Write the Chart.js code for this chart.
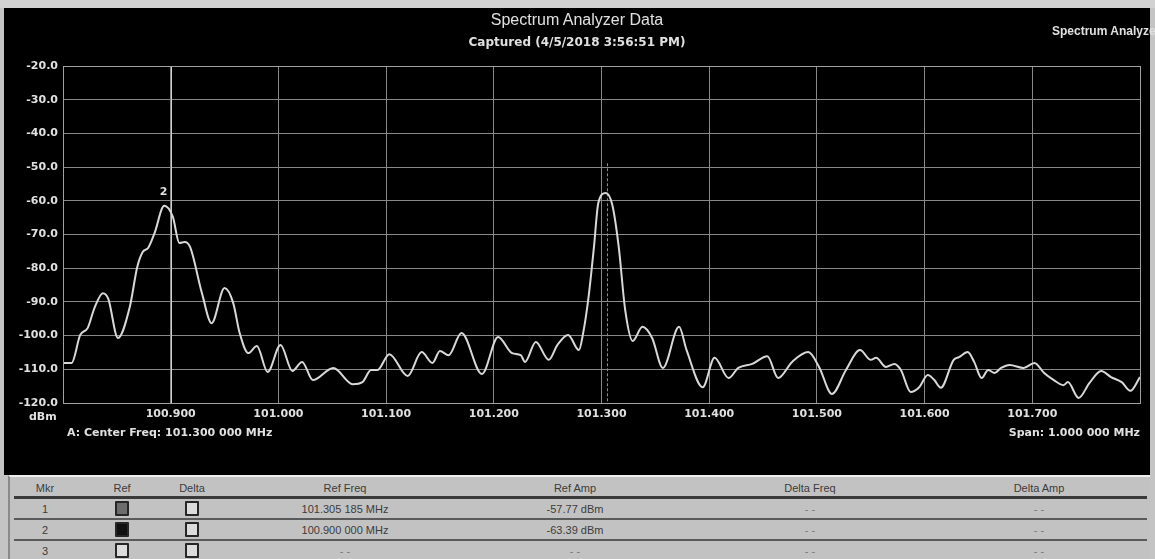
<!DOCTYPE html>
<html>
<head>
<meta charset="utf-8">
<title>Spectrum Analyzer Data</title>
<script src="https://cdn.jsdelivr.net/npm/chart.js@4.4.1/dist/chart.umd.min.js"></script>
<style>
  body { margin:0; width:1155px; height:559px; overflow:hidden; background:#c4c4c4; position:relative;
         font-family:"Liberation Sans", Arial, sans-serif; }
  #top { position:absolute; left:0; top:0; width:1155px; height:8px; background:#d2d2d2; }
  #screen { position:absolute; left:4px; top:8px; width:1146px; height:467px; background:#000; }
  #chartBox { position:absolute; left:0; top:0; width:1146px; height:467px; }
  .lbl { position:absolute; color:#e0e0e0; white-space:nowrap; }
  .dv { font-family:"DejaVu Sans", sans-serif; font-weight:bold; font-size:11px; }
  #title { left:0; width:1146px; top:3px; text-align:center; font-size:16px; }
  #sub { left:0; width:1146px; top:27px; text-align:center; font-size:12px; }
  #corner { left:1048px; top:16px; font-size:12px; font-weight:bold; }
  #unit { left:25px; top:402px; }
  #center { left:63px; top:418px; }
  #span { right:10px; top:418px; }
  #panel { position:absolute; left:8px; top:475px; width:1140px; height:90px; background:#c2c2c2;
           border-top:2px solid #efefef; border-left:2px solid #8a8a8a; }
  table { position:absolute; left:4px; top:2px; width:1133px; border-collapse:collapse; table-layout:fixed;
          font-size:11px; color:#3c3c3c; }
  td, th { text-align:center; padding:0; font-weight:normal; }
  th { height:17px; border-bottom:3px solid #3a3a3a; }
  td { height:19px; border-bottom:2px solid #5a5a5a; }
  .box { display:inline-block; width:10px; height:11px; border:2px solid #262626; background:#dcdcdc;
         vertical-align:middle; border-radius:1px; }
  .box.half { background:#6c6c6c; }
  .box.full { background:#111; }
  .dash { color:#7a7a7a; }
</style>
</head>
<body>
<div id="top"></div>
<div id="screen">
  <div id="chartBox"><canvas id="spec"></canvas></div>
  <div class="lbl" id="title">Spectrum Analyzer Data</div>
  <div class="lbl dv" id="sub">Captured (4/5/2018 3:56:51 PM)</div>
  <div class="lbl" id="corner">Spectrum Analyzer</div>
  <div class="lbl dv" id="unit">dBm</div>
  <div class="lbl dv" id="center">A: Center Freq: 101.300 000 MHz</div>
  <div class="lbl dv" id="span">Span: 1.000 000 MHz</div>
</div>
<div id="panel">
  <table>
    <colgroup>
      <col style="width:62px"><col style="width:92px"><col style="width:48px"><col style="width:258px">
      <col style="width:202px"><col style="width:268px"><col style="width:190px"><col style="width:13px">
    </colgroup>
    <tr><th>Mkr</th><th>Ref</th><th>Delta</th><th>Ref Freq</th><th>Ref Amp</th><th>Delta Freq</th><th>Delta Amp</th><th></th></tr>
    <tr><td>1</td><td><span class="box half"></span></td><td><span class="box"></span></td><td>101.305 185 MHz</td><td>-57.77 dBm</td><td class="dash">- -</td><td class="dash">- -</td><td></td></tr>
    <tr><td>2</td><td><span class="box full"></span></td><td><span class="box"></span></td><td>100.900 000 MHz</td><td>-63.39 dBm</td><td class="dash">- -</td><td class="dash">- -</td><td></td></tr>
    <tr><td>3</td><td><span class="box"></span></td><td><span class="box"></span></td><td class="dash">- -</td><td class="dash">- -</td><td class="dash">- -</td><td class="dash">- -</td><td></td></tr>
  </table>
</div>
<script>
// trace: frequency (MHz) and amplitude (dBm)
const freqMHz = [
  100.800, 100.808, 100.816, 100.823, 100.829, 100.837, 100.842, 100.851, 100.862, 100.869,
  100.874, 100.879, 100.885, 100.894, 100.902, 100.908, 100.913, 100.918, 100.929, 100.938,
  100.950, 100.958, 100.964, 100.972, 100.980, 100.990, 101.002, 101.013, 101.022, 101.032,
  101.051, 101.069, 101.078, 101.086, 101.092, 101.103, 101.120, 101.133, 101.143, 101.150,
  101.158, 101.170, 101.189, 101.204, 101.217, 101.225, 101.229, 101.239, 101.251, 101.259,
  101.269, 101.279, 101.283, 101.288, 101.293, 101.297, 101.304, 101.310, 101.316, 101.322,
  101.329, 101.338, 101.347, 101.357, 101.372, 101.379, 101.394, 101.405, 101.418, 101.427,
  101.440, 101.454, 101.464, 101.477, 101.492, 101.502, 101.514, 101.527, 101.540, 101.550,
  101.555, 101.564, 101.572, 101.578, 101.587, 101.595, 101.603, 101.609, 101.615, 101.627,
  101.632, 101.640, 101.646, 101.653, 101.659, 101.665, 101.671, 101.679, 101.692, 101.702,
  101.711, 101.720, 101.729, 101.733, 101.743, 101.753, 101.764, 101.773, 101.783, 101.791,
  101.800
];
const ampDbm = [
  -108.1, -108.1, -99.8, -97.7, -92.0, -87.4, -89.0, -100.7, -91.5, -79.6,
  -75.2, -74.0, -69.6, -61.5, -64.8, -72.5, -72.2, -73.7, -87.4, -96.3,
  -85.9, -90.3, -99.2, -105.2, -103.1, -110.8, -102.8, -110.5, -107.8, -113.2,
  -109.6, -114.4, -113.8, -110.2, -110.2, -105.5, -112.0, -104.9, -108.1, -104.6,
  -105.8, -99.2, -111.4, -100.4, -105.2, -105.8, -107.8, -101.9, -107.2, -102.8,
  -99.8, -104.3, -99.2, -88.5, -73.7, -60.7, -57.7, -61.2, -73.7, -92.4,
  -101.6, -97.4, -100.7, -109.6, -97.4, -104.3, -115.3, -106.6, -112.6, -109.6,
  -108.4, -106.1, -112.6, -107.8, -104.9, -109.3, -117.3, -110.2, -104.3, -107.2,
  -106.6, -109.3, -108.4, -110.2, -116.7, -115.3, -111.7, -113.2, -115.5, -107.2,
  -106.4, -104.9, -107.8, -112.6, -110.2, -111.1, -109.6, -108.7, -109.6, -108.1,
  -111.1, -113.2, -114.7, -113.8, -118.5, -114.1, -110.5, -112.3, -113.8, -116.4,
  -112.3
];

// markers (from the marker table)
const markerNames = ['1', '2'];
const markerFreq = [101.305185, 100.900000];
const markerAmp = [-57.77, -63.39];

// axis ticks
const xTickValues = [100.8, 100.9, 101.0, 101.1, 101.2, 101.3, 101.4, 101.5, 101.6, 101.7, 101.8];
const yTickValues = [-120, -110, -100, -90, -80, -70, -60, -50, -40, -30, -20];

const points = freqMHz.map((f, i) => ({ x: f, y: ampDbm[i] }));

const markerPlugin = {
  id: 'markers',
  beforeDatasetsDraw(chart) {
    const { ctx, chartArea, scales: { x, y } } = chart;
    ctx.save();
    markerNames.forEach((name, i) => {
      const px = Math.round(x.getPixelForValue(markerFreq[i])) + 0.5;
      ctx.beginPath();
      if (name === '1') {
        ctx.setLineDash([3, 2]);
        ctx.strokeStyle = '#8c8c8c';
        ctx.moveTo(px, y.getPixelForValue(markerAmp[i]) - 30);
      } else {
        ctx.setLineDash([]);
        ctx.strokeStyle = '#d0d0d0';
        ctx.moveTo(px, chartArea.top);
      }
      ctx.lineWidth = 1;
      ctx.lineTo(px, chartArea.bottom);
      ctx.stroke();
      if (name === '2') {
        ctx.fillStyle = '#e0e0e0';
        ctx.font = 'bold 11px "DejaVu Sans", sans-serif';
        ctx.textAlign = 'center';
        ctx.textBaseline = 'middle';
        ctx.fillText(name, px - 8, y.getPixelForValue(markerAmp[i]) - 20);
      }
    });
    ctx.restore();
  }
};

const tickFont = { family: '"DejaVu Sans", sans-serif', size: 11, weight: 'bold' };
const gridColor = '#888888';

new Chart(document.getElementById('spec'), {
  type: 'line',
  data: {
    datasets: [{
      label: 'Trace A',
      data: points,
      borderColor: '#d8d8d8',
      borderWidth: 2,
      pointRadius: 0,
      cubicInterpolationMode: 'monotone',
      fill: false
    }]
  },
  options: {
    responsive: true,
    maintainAspectRatio: false,
    animation: false,
    layout: { padding: { left: 4, top: 58, right: 10, bottom: 52 } },
    plugins: { legend: { display: false }, tooltip: { enabled: false } },
    scales: {
      x: {
        type: 'linear',
        min: 100.8,
        max: 101.8,
        afterBuildTicks: (s) => { s.ticks = xTickValues.map(v => ({ value: v })); },
        afterFit: (s) => { s.height = 20; },
        grid: { color: gridColor, lineWidth: 1, drawTicks: false },
        border: { color: '#a0a0a0', width: 1 },
        ticks: {
          color: '#e0e0e0', font: tickFont, padding: 5, maxRotation: 0, autoSkip: false,
          callback: (v) => (Math.abs(v - 100.8) < 1e-6 || Math.abs(v - 101.8) < 1e-6) ? '' : Number(v).toFixed(3)
        }
      },
      y: {
        min: -120,
        max: -20,
        afterBuildTicks: (s) => { s.ticks = yTickValues.map(v => ({ value: v })); },
        afterFit: (s) => { s.width = 55; },
        grid: { color: gridColor, lineWidth: 1, drawTicks: false },
        border: { color: '#a0a0a0', width: 1 },
        ticks: { color: '#e0e0e0', font: tickFont, padding: 5, callback: (v) => Number(v).toFixed(1) }
      }
    }
  },
  plugins: [markerPlugin, {
    id: 'frame',
    afterDraw(chart) {
      const { ctx, chartArea: a } = chart;
      ctx.save();
      ctx.strokeStyle = '#a0a0a0';
      ctx.lineWidth = 1;
      ctx.strokeRect(Math.round(a.left) + 0.5, Math.round(a.top) + 0.5, Math.round(a.right - a.left), Math.round(a.bottom - a.top));
      ctx.restore();
    }
  }]
});
</script>
</body>
</html>
